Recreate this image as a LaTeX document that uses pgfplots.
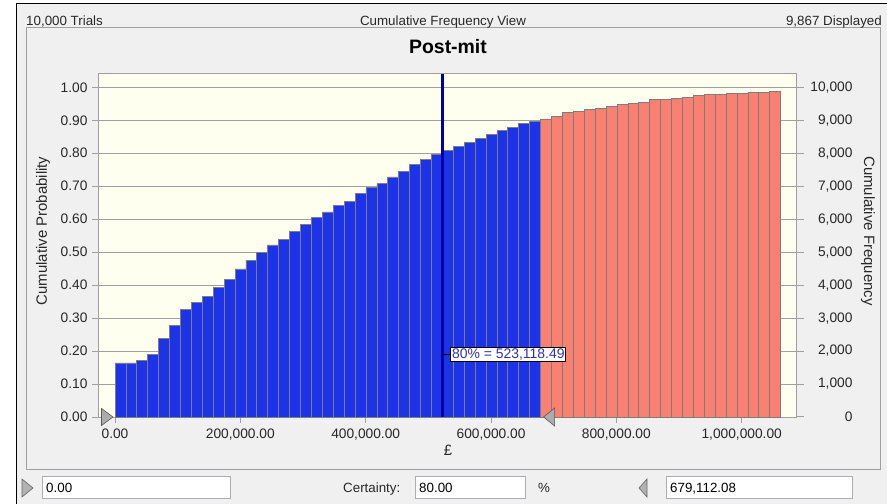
\documentclass[border=0pt]{standalone}
\usepackage{pgfplots}
\pgfplotsset{compat=1.18}
\usepackage{fontspec}
\setmainfont{Liberation Sans}
\definecolor{panelbg}{RGB}{240,240,240}
\definecolor{plotbg}{RGB}{255,255,240}
\definecolor{barblue}{RGB}{28,51,232}
\definecolor{barred}{RGB}{250,128,114}
\definecolor{baredge}{RGB}{125,125,125}
\definecolor{gridgray}{RGB}{160,160,160}
\definecolor{linenavy}{RGB}{0,0,160}
\definecolor{labtext}{RGB}{50,50,170}
\definecolor{boxedge}{RGB}{171,173,179}
\definecolor{txt}{RGB}{40,40,40}

\pgfplotstableread{
x y
0 0.164
17413 0.164
34826 0.171
52239 0.189
69652 0.237
87065 0.279
104478 0.327
121891 0.348
139304 0.365
156717 0.392
174130 0.417
191543 0.449
208956 0.475
226369 0.499
243782 0.522
261195 0.539
278608 0.562
296021 0.583
313434 0.605
330847 0.622
348260 0.641
365673 0.655
383086 0.677
400499 0.695
417912 0.709
435325 0.728
452738 0.746
470151 0.766
487564 0.781
504977 0.796
522390 0.808
539803 0.821
557216 0.833
574629 0.846
592042 0.857
609455 0.868
626868 0.879
644281 0.891
661694 0.897
679112 0.897
}\bluebars

\pgfplotstableread{
x y
679112 0.904
696520 0.912
713933 0.923
731346 0.927
748759 0.933
766172 0.937
783585 0.941
800998 0.948
818411 0.952
835824 0.955
853237 0.962
870650 0.962
888063 0.966
905476 0.970
922889 0.974
940302 0.977
957715 0.977
975128 0.981
992541 0.981
1009954 0.984
1027367 0.984
1044780 0.987
1062193 0.987
}\redbars

\begin{document}
\begin{tikzpicture}[x=1bp,y=1bp]
\path[use as bounding box] (0bp,0bp) rectangle (887bp,504bp);
\fill[white] (0bp,0bp) rectangle (887bp,504bp);
\fill[panelbg] (16bp,0bp) rectangle (887bp,500bp);
\draw[black, line width=1bp] (16bp,0bp) -- (16bp,500bp) -- (887bp,500bp);
\draw[gridgray, line width=1bp] (26bp,34bp) rectangle (880bp,476bp);

% header
\node[anchor=base west, inner sep=0, font=\fontsize{13.4}{15}\selectfont, text=txt] at (26bp,478.5bp) {10,000 Trials};
\node[anchor=base, inner sep=0, font=\fontsize{13.4}{15}\selectfont, text=txt] at (443bp,478.5bp) {Cumulative Frequency View};
\node[anchor=base east, inner sep=0, font=\fontsize{13.4}{15}\selectfont, text=txt] at (882bp,478.5bp) {9,867 Displayed};
\node[anchor=base, inner sep=0, font=\fontsize{19.5}{21}\selectfont\bfseries] at (448bp,450bp) {Post-mit};

\begin{axis}[
  at={(98bp,87bp)}, anchor=south west,
  scale only axis, width=698bp, height=343bp,
  xmin=-27126, xmax=1086645, ymin=0, ymax=1.0404,
  clip=false,
  axis background/.style={fill=plotbg},
  axis line style={gridgray, line width=1bp},
  tick style={gridgray, line width=1bp},
  tick align=outside, major tick length=6bp,
  xtick pos=bottom, ytick pos=left,
  ymajorgrids, grid style={gridgray, line width=1bp},
  xtick={0,200000,400000,600000,800000,1000000},
  xticklabels={0.00,{200,000.00},{400,000.00},{600,000.00},{800,000.00},{1,000,000.00}},
  ytick={0,0.1,0.2,0.3,0.4,0.5,0.6,0.7,0.8,0.9,1.0},
  yticklabels={0.00,0.10,0.20,0.30,0.40,0.50,0.60,0.70,0.80,0.90,1.00},
  ticklabel style={font=\fontsize{13.8}{15}\selectfont, text=txt},
  xticklabel style={yshift=-2bp},
  yticklabel style={xshift=-1bp},
  scaled x ticks=false, scaled y ticks=false,
]
\addplot[ybar interval, fill=barblue, draw=baredge, line width=0.8bp] table[x=x,y=y] {\bluebars};
\addplot[ybar interval, fill=barred, draw=baredge, line width=0.8bp] table[x=x,y=y] {\redbars};
\addplot[linenavy, line width=3bp] coordinates {(523118,0) (523118,1.0404)};
\draw[black, line width=1.5bp] (axis cs:523118,0.19) -- ++(8bp,0bp);
\node[anchor=west, draw=black, fill=white, line width=1bp, inner sep=1.2bp, text=labtext, font=\fontsize{14}{15}\selectfont] at (axis cs:523118,0.19) [xshift=7.5bp] {80\% = 523,118.49};
\fill[gray!65, draw=black!65, line width=0.6bp] (axis cs:0,0) ++(-2bp,0bp) -- ++(-11.5bp,8.5bp) -- ++(0bp,-17bp) -- cycle;
\fill[gray!65, draw=black!65, line width=0.6bp] (axis cs:679112,0) ++(3bp,0bp) -- ++(11bp,9bp) -- ++(0bp,-18bp) -- cycle;
\end{axis}

\begin{axis}[
  at={(98bp,87bp)}, anchor=south west,
  scale only axis, width=698bp, height=343bp,
  xmin=-27126, xmax=1086645, ymin=0, ymax=10404,
  axis y line*=right, hide x axis,
  axis line style={gridgray, line width=1bp},
  tick style={gridgray, line width=1bp},
  tick align=outside, major tick length=8bp,
  scaled y ticks=false,
  ytick={0,1000,2000,3000,4000,5000,6000,7000,8000,9000,10000},
  yticklabels={0,{1,000},{2,000},{3,000},{4,000},{5,000},{6,000},{7,000},{8,000},{9,000},{10,000}},
  yticklabel style={font=\fontsize{13.8}{15}\selectfont, text=txt, anchor=east, xshift=52bp},
]
\addplot[draw=none] coordinates {(0,0)};
\end{axis}

% axis titles
\node[rotate=90, font=\fontsize{15}{17}\selectfont, text=txt] at (43bp,273bp) {Cumulative Probability};
\node[rotate=-90, font=\fontsize{15}{17}\selectfont, text=txt] at (868bp,273bp) {Cumulative Frequency};
\node[font=\fontsize{15}{17}\selectfont, text=txt] at (448bp,54bp) {£};

% bottom controls
\fill[gray!60, draw=black!60, line width=0.6bp] (33bp,16bp) -- (22bp,25bp) -- (22bp,7bp) -- cycle;
\draw[boxedge, fill=white, line width=1bp] (42bp,5bp) rectangle (230bp,27bp);
\node[anchor=base west, inner sep=0, font=\fontsize{13.4}{15}\selectfont] at (46bp,11.3bp) {0.00};
\node[anchor=base west, inner sep=0, font=\fontsize{13.4}{15}\selectfont, text=txt] at (343bp,11.3bp) {Certainty:};
\draw[boxedge, fill=white, line width=1bp] (415bp,5bp) rectangle (525bp,27bp);
\node[anchor=base west, inner sep=0, font=\fontsize{13.4}{15}\selectfont] at (419bp,11.3bp) {80.00};
\node[anchor=base west, inner sep=0, font=\fontsize{13.4}{15}\selectfont, text=txt] at (538bp,11.3bp) {\%};
\fill[gray!60, draw=black!60, line width=0.6bp] (639bp,16bp) -- (647bp,25bp) -- (647bp,7bp) -- cycle;
\draw[boxedge, fill=white, line width=1bp] (666bp,5bp) rectangle (852bp,27bp);
\node[anchor=base west, inner sep=0, font=\fontsize{13.4}{15}\selectfont] at (670bp,11.3bp) {679,112.08};
\end{tikzpicture}
\end{document}
